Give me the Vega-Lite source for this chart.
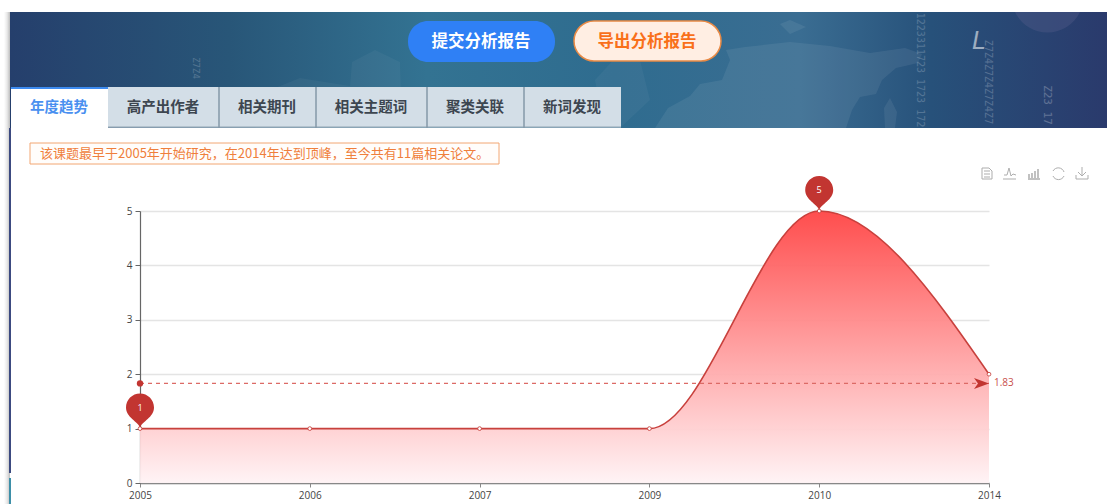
{
"$schema":"https://vega.github.io/schema/vega-lite/v6.json",
"width":849,"height":272,"autosize":"none",
"padding":{"left":140,"top":211,"right":118,"bottom":21},
"background":"#ffffff",
"config":{"view":{"stroke":null},"font":"Open Sans"},
"resolve":{"scale":{"x":"independent","y":"independent"}},
"layer":[
{"data":{"values":[{"part":"page"}]},
 "layer":[
 {"mark":{"type":"rect","fill":{"x1":0,"y1":0,"x2":1,"y2":0,"gradient":"linear","stops":[{"offset":0,"color":"#ffffff"},{"offset":0.5,"color":"#e9e9e9"},{"offset":1,"color":"#bdbdbd"}]}},"encoding":{"x":{"datum":4,"type":"quantitative","scale":{"domain":[0,1107],"range":[-140,967],"nice":false},"axis":null},"x2":{"datum":10},"y":{"datum":12,"type":"quantitative","scale":{"domain":[0,504],"range":[-211,293],"nice":false},"axis":null},"y2":{"datum":504}}},
 {"mark":{"type":"rect","fill":"#3c4a80"},"encoding":{"x":{"datum":9,"type":"quantitative","axis":null},"x2":{"datum":11},"y":{"datum":128,"type":"quantitative","axis":null},"y2":{"datum":473}}},
 {"mark":{"type":"rect","fill":"#3d8fa8"},"encoding":{"x":{"datum":9,"type":"quantitative","axis":null},"x2":{"datum":11},"y":{"datum":478,"type":"quantitative","axis":null},"y2":{"datum":504}}},

 {"mark":{"type":"rect","fill":{"x1":0,"y1":0,"x2":1,"y2":0,"gradient":"linear","stops":[{"offset":0,"color":"#253f6c"},{"offset":0.2,"color":"#285678"},{"offset":0.38,"color":"#337392"},{"offset":0.55,"color":"#2f6c8f"},{"offset":0.72,"color":"#3a6d92"},{"offset":0.84,"color":"#27517a"},{"offset":1,"color":"#2a3a6c"}]}},"encoding":{"x":{"datum":10,"type":"quantitative","axis":null},"x2":{"datum":1107},"y":{"datum":12,"type":"quantitative","axis":null},"y2":{"datum":128}}},

 {"mark":{"type":"point","filled":true,"size":4,"fill":"#ffffff","opacity":0.07,"stroke":null,"shape":"M655,128 L668,108 L690,96 L700,84 L722,80 L730,60 L726,50 L745,47 L790,42 L830,46 L870,53 L905,48 L922,54 L918,63 L896,68 L882,80 L876,94 L860,97 L852,110 L846,128 Z M890,98 L897,112 L895,128 L885,128 L884,108 Z M780,24 L790,20 L806,27 L790,34 Z"},"encoding":{"x":{"datum":0,"type":"quantitative","axis":null},"y":{"datum":0,"type":"quantitative","axis":null}}},
 {"mark":{"type":"point","filled":true,"size":4,"fill":"#ffffff","opacity":0.04,"stroke":null,"shape":"M255,128 L275,88 L300,78 L350,86 L352,62 L375,50 L400,62 L402,128 Z M620,128 L600,105 L595,80 L615,58 L640,60 L650,100 Z"},"encoding":{"x":{"datum":0,"type":"quantitative","axis":null},"y":{"datum":0,"type":"quantitative","axis":null}}},
 {"mark":{"type":"point","filled":true,"size":4,"fill":"#5a5f8c","opacity":0.35,"stroke":null,"shape":"M1015,12 A36,36 0 0 0 1080,12 Z"},"encoding":{"x":{"datum":0,"type":"quantitative","axis":null},"y":{"datum":0,"type":"quantitative","axis":null}}},

 {"mark":{"type":"text","text":"1223311723 1723 172","font":"DejaVu Sans Mono","fontSize":10,"angle":90,"align":"center","baseline":"middle","color":"#ffffff","opacity":0.2},"encoding":{"x":{"datum":920,"type":"quantitative","axis":null},"y":{"datum":70,"type":"quantitative","axis":null}}},
 {"mark":{"type":"text","text":"Z7Z4Z7Z4Z7Z4Z7","font":"DejaVu Sans Mono","fontSize":10,"angle":90,"align":"center","baseline":"middle","color":"#ffffff","opacity":0.22},"encoding":{"x":{"datum":988,"type":"quantitative","axis":null},"y":{"datum":82,"type":"quantitative","axis":null}}},
 {"mark":{"type":"text","text":"Z23 17","font":"DejaVu Sans Mono","fontSize":11,"angle":90,"align":"center","baseline":"middle","color":"#ffffff","opacity":0.25},"encoding":{"x":{"datum":1047,"type":"quantitative","axis":null},"y":{"datum":105,"type":"quantitative","axis":null}}},
 {"mark":{"type":"text","text":"Z7Z4","font":"DejaVu Sans Mono","fontSize":9,"angle":90,"align":"center","baseline":"middle","color":"#ffffff","opacity":0.2},"encoding":{"x":{"datum":196,"type":"quantitative","axis":null},"y":{"datum":68,"type":"quantitative","axis":null}}},
 {"mark":{"type":"text","text":"L","font":"Liberation Sans","fontSize":25,"fontStyle":"italic","align":"center","color":"#ffffff","opacity":0.55},"encoding":{"x":{"datum":979,"type":"quantitative","axis":null},"y":{"datum":41,"type":"quantitative","axis":null}}},

 {"mark":{"type":"rect","fill":"#d3dee7"},"encoding":{"x":{"datum":108,"type":"quantitative","axis":null},"x2":{"datum":621},"y":{"datum":87,"type":"quantitative","axis":null},"y2":{"datum":127}}},
 {"mark":{"type":"rule","stroke":"#a9b8c4","strokeWidth":1.5},"encoding":{"x":{"datum":108,"type":"quantitative","axis":null},"x2":{"datum":621},"y":{"datum":127,"type":"quantitative","axis":null}}},
 {"mark":{"type":"rule","stroke":"#8599a8","strokeWidth":1.5},"encoding":{"x":{"datum":219,"type":"quantitative","axis":null},"y":{"datum":87,"type":"quantitative","axis":null},"y2":{"datum":128}}},
 {"mark":{"type":"rule","stroke":"#8599a8","strokeWidth":1.5},"encoding":{"x":{"datum":316,"type":"quantitative","axis":null},"y":{"datum":87,"type":"quantitative","axis":null},"y2":{"datum":128}}},
 {"mark":{"type":"rule","stroke":"#8599a8","strokeWidth":1.5},"encoding":{"x":{"datum":427,"type":"quantitative","axis":null},"y":{"datum":87,"type":"quantitative","axis":null},"y2":{"datum":128}}},
 {"mark":{"type":"rule","stroke":"#8599a8","strokeWidth":1.5},"encoding":{"x":{"datum":524,"type":"quantitative","axis":null},"y":{"datum":87,"type":"quantitative","axis":null},"y2":{"datum":128}}},
 {"mark":{"type":"rect","fill":"#ffffff"},"encoding":{"x":{"datum":11,"type":"quantitative","axis":null},"x2":{"datum":108},"y":{"datum":87,"type":"quantitative","axis":null},"y2":{"datum":128}}},
 {"mark":{"type":"rule","stroke":"#3d8bf0","strokeWidth":2},"encoding":{"x":{"datum":11,"type":"quantitative","axis":null},"x2":{"datum":108},"y":{"datum":88,"type":"quantitative","axis":null}}},

 {"mark":{"type":"text","text":"年度趋势","font":"Noto Sans CJK SC","fontWeight":"bold","fontSize":14.5,"align":"center","baseline":"middle","color":"#4a90f0"},"encoding":{"x":{"datum":59,"type":"quantitative","axis":null},"y":{"datum":108,"type":"quantitative","axis":null}}},
 {"mark":{"type":"text","text":"高产出作者","font":"Noto Sans CJK SC","fontWeight":"bold","fontSize":14.5,"align":"center","baseline":"middle","color":"#3d4650"},"encoding":{"x":{"datum":163,"type":"quantitative","axis":null},"y":{"datum":108,"type":"quantitative","axis":null}}},
 {"mark":{"type":"text","text":"相关期刊","font":"Noto Sans CJK SC","fontWeight":"bold","fontSize":14.5,"align":"center","baseline":"middle","color":"#3d4650"},"encoding":{"x":{"datum":267,"type":"quantitative","axis":null},"y":{"datum":108,"type":"quantitative","axis":null}}},
 {"mark":{"type":"text","text":"相关主题词","font":"Noto Sans CJK SC","fontWeight":"bold","fontSize":14.5,"align":"center","baseline":"middle","color":"#3d4650"},"encoding":{"x":{"datum":371,"type":"quantitative","axis":null},"y":{"datum":108,"type":"quantitative","axis":null}}},
 {"mark":{"type":"text","text":"聚类关联","font":"Noto Sans CJK SC","fontWeight":"bold","fontSize":14.5,"align":"center","baseline":"middle","color":"#3d4650"},"encoding":{"x":{"datum":475,"type":"quantitative","axis":null},"y":{"datum":108,"type":"quantitative","axis":null}}},
 {"mark":{"type":"text","text":"新词发现","font":"Noto Sans CJK SC","fontWeight":"bold","fontSize":14.5,"align":"center","baseline":"middle","color":"#3d4650"},"encoding":{"x":{"datum":572,"type":"quantitative","axis":null},"y":{"datum":108,"type":"quantitative","axis":null}}},

 {"mark":{"type":"rect","fill":"#2f80f5","cornerRadius":20},"encoding":{"x":{"datum":408,"type":"quantitative","axis":null},"x2":{"datum":555},"y":{"datum":21,"type":"quantitative","axis":null},"y2":{"datum":62}}},
 {"mark":{"type":"text","text":"提交分析报告","font":"Noto Sans CJK SC","fontWeight":"bold","fontSize":16.5,"align":"center","baseline":"middle","color":"#ffffff"},"encoding":{"x":{"datum":481,"type":"quantitative","axis":null},"y":{"datum":41.5,"type":"quantitative","axis":null}}},
 {"mark":{"type":"rect","fill":"#ffeee3","stroke":"#e98a45","strokeWidth":1.5,"cornerRadius":20},"encoding":{"x":{"datum":574,"type":"quantitative","axis":null},"x2":{"datum":721},"y":{"datum":21,"type":"quantitative","axis":null},"y2":{"datum":61}}},
 {"mark":{"type":"text","text":"导出分析报告","font":"Noto Sans CJK SC","fontWeight":"bold","fontSize":16.5,"align":"center","baseline":"middle","color":"#f9701a"},"encoding":{"x":{"datum":647,"type":"quantitative","axis":null},"y":{"datum":41.5,"type":"quantitative","axis":null}}},

 {"mark":{"type":"rect","fill":"#fffdfb","stroke":"#f2a673","strokeWidth":1},"encoding":{"x":{"datum":30,"type":"quantitative","axis":null},"x2":{"datum":499},"y":{"datum":143,"type":"quantitative","axis":null},"y2":{"datum":164}}},
 {"mark":{"type":"text","text":"该课题最早于2005年开始研究，在2014年达到顶峰，至今共有11篇相关论文。","font":"Noto Sans CJK SC","fontSize":13,"align":"left","baseline":"middle","color":"#ef7f3c"},"encoding":{"x":{"datum":40,"type":"quantitative","axis":null},"y":{"datum":153.5,"type":"quantitative","axis":null}}},

 {"mark":{"type":"point","filled":false,"size":4,"stroke":"#8c8c8c","strokeWidth":1,"shape":"M982,168 L989,168 L992,171 L992,179 L982,179 Z M984,171 L990,171 M984,174 L990,174 M984,177 L990,177"},"encoding":{"x":{"datum":0,"type":"quantitative","axis":null},"y":{"datum":0,"type":"quantitative","axis":null}}},
 {"mark":{"type":"point","filled":false,"size":4,"stroke":"#8c8c8c","strokeWidth":1,"shape":"M1004,175 L1007,175 L1009,168 L1011,176 L1013,174 L1016,175 M1003,179 L1016,179"},"encoding":{"x":{"datum":0,"type":"quantitative","axis":null},"y":{"datum":0,"type":"quantitative","axis":null}}},
 {"mark":{"type":"point","filled":false,"size":4,"stroke":"#8c8c8c","strokeWidth":1.5,"shape":"M1029,178 L1029,174 M1032,178 L1032,173 M1035,178 L1035,171 M1038,178 L1038,169 M1028,179 L1040,179"},"encoding":{"x":{"datum":0,"type":"quantitative","axis":null},"y":{"datum":0,"type":"quantitative","axis":null}}},
 {"mark":{"type":"point","filled":false,"size":4,"stroke":"#8c8c8c","strokeWidth":1,"shape":"M1053,171 A6,6 0 0 1 1064,172 M1064,176 A6,6 0 0 1 1053,176"},"encoding":{"x":{"datum":0,"type":"quantitative","axis":null},"y":{"datum":0,"type":"quantitative","axis":null}}},
 {"mark":{"type":"point","filled":false,"size":4,"stroke":"#8c8c8c","strokeWidth":1,"shape":"M1082,167 L1082,176 M1078,172 L1082,176 L1086,172 M1076,175 L1076,179 L1088,179 L1088,175"},"encoding":{"x":{"datum":0,"type":"quantitative","axis":null},"y":{"datum":0,"type":"quantitative","axis":null}}}
 ]},

{"data":{"values":[
  {"year":"2005","papers":1},{"year":"2006","papers":1},{"year":"2007","papers":1},
  {"year":"2009","papers":1},{"year":"2010","papers":5},{"year":"2014","papers":2}]},
 "layer":[
 {"mark":{"type":"area","interpolate":"monotone","opacity":0.95,"fill":{"x1":0,"y1":0,"x2":0,"y2":1,"gradient":"linear","stops":[{"offset":0,"color":"#ff4444"},{"offset":1,"color":"#fff3f5"}]}},
  "encoding":{
   "x":{"field":"year","type":"ordinal","scale":{"type":"point","padding":0},"sort":null,
        "axis":{"title":null,"labelAngle":0,"labelFontSize":10,"labelColor":"#444444","labelPadding":3,"domainColor":"#888888","domainWidth":1.5,"tickColor":"#888888","tickSize":4,"grid":false}},
   "y":{"field":"papers","type":"quantitative","scale":{"domain":[0,5],"nice":false},
        "axis":{"title":null,"values":[0,1,2,3,4,5],"labelFontSize":10,"labelColor":"#444444","labelPadding":3,"domainColor":"#666666","domainWidth":1.2,"tickColor":"#666666","tickSize":5,"grid":true,"gridColor":"#e4e4e4","gridWidth":1.5}}}},
 {"mark":{"type":"line","interpolate":"monotone","stroke":"#c8413d","strokeWidth":1.6},
  "encoding":{"x":{"field":"year","type":"ordinal","sort":null},"y":{"field":"papers","type":"quantitative"}}},
 {"data":{"values":[{"year":"2005","mean":1.83},{"year":"2014","mean":1.83}]},
  "mark":{"type":"line","stroke":"#dc6a66","strokeWidth":1.2,"strokeDash":[4,4]},
  "encoding":{"x":{"field":"year","type":"ordinal","sort":null},"y":{"field":"mean","type":"quantitative"}}},
 {"data":{"values":[{"year":"2005","mean":1.83}]},
  "mark":{"type":"point","shape":"circle","filled":true,"size":40,"fill":"#c23531","stroke":null,"opacity":1},
  "encoding":{"x":{"field":"year","type":"ordinal","sort":null},"y":{"field":"mean","type":"quantitative"}}},
 {"data":{"values":[{"year":"2014","mean":1.83}]},
  "mark":{"type":"point","filled":true,"size":4,"fill":"#c23531","stroke":null,"opacity":1,"shape":"M0,0 L-15,-5.5 L-11,0 L-15,5.5 Z"},
  "encoding":{"x":{"field":"year","type":"ordinal","sort":null},"y":{"field":"mean","type":"quantitative"}}},
 {"data":{"values":[{"year":"2014","mean":1.83}]},
  "mark":{"type":"text","align":"left","baseline":"middle","dx":5,"fontSize":10,"color":"#c8504c"},
  "encoding":{"x":{"field":"year","type":"ordinal","sort":null},"y":{"field":"mean","type":"quantitative"},"text":{"field":"mean","type":"quantitative"}}},
 {"mark":{"type":"point","shape":"circle","filled":true,"size":14,"fill":"#ffffff","stroke":"#c23531","strokeWidth":0.8,"opacity":1},
  "encoding":{"x":{"field":"year","type":"ordinal","sort":null},"y":{"field":"papers","type":"quantitative"}}},
 {"transform":[{"filter":"datum.year==='2005'||datum.year==='2010'"}],
  "mark":{"type":"point","filled":true,"size":4,"fill":"#c23531","stroke":null,"opacity":1,"shape":"M0,-1 C-2,-7 -14,-11 -14,-21 A14,14 0 1 1 14,-21 C14,-11 2,-7 0,-1 Z"},
  "encoding":{"x":{"field":"year","type":"ordinal","sort":null},"y":{"field":"papers","type":"quantitative"}}},
 {"transform":[{"filter":"datum.year==='2005'||datum.year==='2010'"}],
  "mark":{"type":"text","align":"center","baseline":"middle","dy":-21,"fontSize":9,"color":"#ffffff"},
  "encoding":{"x":{"field":"year","type":"ordinal","sort":null},"y":{"field":"papers","type":"quantitative"},"text":{"field":"papers","type":"quantitative"}}}
 ]}
]}
